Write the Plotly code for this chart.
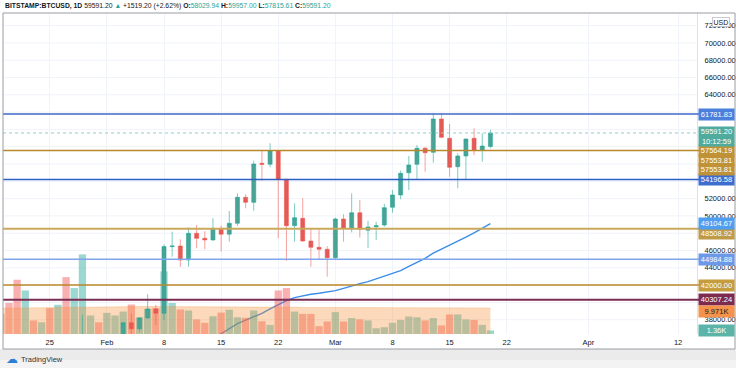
import pandas as pd
import plotly.graph_objects as go

# ---------------- data ----------------
dates = pd.date_range('2021-01-19', '2021-03-20', freq='D')

opens = [36000, 35500, 35400, 30850, 33000, 32100, 32300, 32250, 32500, 30400, 33400, 34300, 34350,
         33100, 33500, 35500, 37650, 36950, 38200, 39250, 38750, 46450, 46520, 44900, 47990, 47410, 47220,
         48560, 47890, 49150, 52150, 51570, 56080, 55970, 57540, 54230, 48870, 49720, 47100, 46370, 46140,
         45170, 49640, 48500, 50370, 48350, 48740, 48950, 51000, 52420, 54990, 55970, 57820, 57350, 61200,
         58970, 55690, 56930, 58970, 57620, 58029.94]
highs = [36300, 36200, 35600, 33800, 33500, 32900, 34900, 32900, 32600, 33800, 38600, 34900, 34400,
         34700, 35900, 37700, 38700, 38300, 40950, 39700, 46700, 48180, 47290, 48680, 48950, 48250, 49720,
         48900, 50570, 52610, 52500, 56380, 57540, 58390, 57600, 54300, 51450, 52040, 48500, 48400, 46500,
         49800, 50200, 52610, 51840, 49450, 49310, 51380, 53000, 55230, 56930, 58200, 57990, 61860, 61860,
         60630, 57240, 58950, 60130, 59550, 59957.00]
lows = [34800, 33400, 30100, 28850, 31400, 30900, 32100, 30850, 29200, 29900, 31900, 32900, 32300,
        32300, 33450, 35300, 36200, 36600, 38150, 37400, 37950, 45280, 44130, 44130, 46260, 46140, 47150,
        45870, 47020, 48830, 50880, 50600, 54070, 55620, 47410, 44790, 47020, 47000, 44130, 44900, 42970,
        45000, 47020, 48100, 47500, 46260, 47215, 48750, 50370, 51920, 52990, 54270, 55110, 56150, 59000,
        54530, 53190, 54150, 57040, 56270, 57815.61]
closes = [35500, 35400, 30850, 33000, 32100, 32300, 32250, 32500, 30400, 33400, 34300, 34350, 33100,
          33500, 35500, 37650, 36950, 38200, 39250, 38750, 46450, 46520, 44900, 47990, 47410, 47220, 48560,
          47890, 49150, 52150, 51570, 56000, 55970, 57540, 54230, 48870, 49790, 47100, 46370, 46140, 45170,
          49640, 48570, 50370, 48450, 48720, 48860, 50950, 52420, 54920, 55880, 57820, 57310, 61200, 59090,
          55620, 56930, 58890, 57620, 58080, 59591.20]
volume_k = [7.7, 11.9, 20.8, 16.7, 5.2, 4.5, 9.9, 11.2, 21.8, 17.6, 30.5, 7.1, 4.5,
            8.1, 7.1, 8.6, 11.3, 6.4, 9.6, 9.9, 24.0, 11.9, 9.4, 9.0, 5.6, 4.3, 6.8,
            8.2, 9.3, 6.4, 6.2, 9.0, 4.9, 3.5, 16.7, 17.6, 8.6, 7.7, 7.7, 3.0, 4.8,
            8.4, 4.8, 6.1, 5.6, 5.2, 2.2, 2.6, 4.3, 5.4, 6.7, 6.4, 5.2, 6.1, 3.3,
            7.5, 7.5, 5.6, 5.4, 3.5, 1.36]
volume_ma_k = [9.9, 9.95, 10.0, 10.05, 10.1, 10.15, 10.2, 10.25, 10.3, 10.35, 10.4, 10.4, 10.45,
               10.45, 10.5, 10.5, 10.5, 10.5, 10.5, 10.5, 10.5, 10.45, 10.45, 10.4, 10.4, 10.4, 10.35,
               10.35, 10.35, 10.3, 10.3, 10.3, 10.3, 10.3, 10.25, 10.25, 10.25, 10.2, 10.2, 10.2, 10.2,
               10.2, 10.2, 10.15, 10.15, 10.15, 10.1, 10.1, 10.1, 10.1, 10.05, 10.05, 10.05, 10.0, 10.0,
               10.0, 10.0, 9.99, 9.98, 9.975, 9.971]

ma_dates = pd.date_range('2021-02-14', '2021-03-20', freq='D')
ma50 = [35800, 36400, 37000, 37540, 37950, 38300, 38740, 39240, 39700, 40200, 40550, 40780, 40940,
        41060, 41210, 41360, 41630, 41930, 42170, 42400, 42710, 42980, 43290, 43670, 44170, 44640,
        45100, 45700, 46150, 46560, 47060, 47550, 48050, 48540, 49105]

# horizontal price levels: (value, line colour, width, label colour)
levels = [
    (61781.83, '#4169c9', 1.5, '#4a7fdc'),
    (57564.19, '#b8892a', 1.5, '#bf9238'),
    (54196.58, '#2f5fc4', 1.5, '#3d6dcf'),
    (48508.92, '#c9a85c', 2.0, '#bf9a48'),
    (44984.88, '#7fa6ec', 1.5, '#6c98e8'),
    (42000.00, '#b8892a', 1.5, '#c59c3e'),
    (40307.24, '#7a2d52', 2.0, '#7d2a4f'),
]
extra_labels = [(57553.81, '#bf9238', -9.5), (57553.81, '#bf9238', -18.5)]

x_tickvals = ['2021-01-25', '2021-02-01', '2021-02-08', '2021-02-15', '2021-02-22', '2021-03-01',
              '2021-03-08', '2021-03-15', '2021-03-22', '2021-04-01', '2021-04-12']
x_ticktext = ['25', 'Feb', '8', '15', '22', 'Mar', '8', '15', '22', 'Apr', '12']
# price ticks whose labels are not covered by the level labels
y_tickvals = [38000, 44000, 46000, 50000, 52000, 64000, 66000, 68000, 70000, 72000]
grid_vals = list(range(36000, 74000, 2000))

last_close = 59591.20
ma_last = 49104.67
vol_ma_last = 9971
vol_last = 1360

# ---------------- layout geometry ----------------
W, H = 736, 368
def px(x):
    return x / W
def py(y):
    return 1 - y / H

plot_l, plot_r, plot_t, plot_b = 3, 697, 13, 334
price_range = [36349, 73458]
vol_range = [0, 123000]

feb8 = pd.Timestamp('2021-02-08')
x_start = feb8 - pd.Timedelta(days=(164 - plot_l) / 8.16)
x_end = feb8 + pd.Timedelta(days=(plot_r - 164) / 8.16)

vol_colors = ['rgba(38,166,154,0.45)' if c >= o else 'rgba(239,83,80,0.45)' for o, c in zip(opens, closes)]

fig = go.Figure()
fig.add_trace(go.Scatter(x=ma_dates, y=ma50, mode='lines', line=dict(color='#3b8ee8', width=1.4),
                         yaxis='y', hoverinfo='skip', showlegend=False))
fig.add_trace(go.Bar(x=dates, y=[v * 1000 for v in volume_k], marker=dict(color=vol_colors, line=dict(width=0)),
                     width=0.9 * 86400000, yaxis='y2', hoverinfo='skip', showlegend=False))
fig.add_trace(go.Scatter(x=dates, y=[v * 1000 for v in volume_ma_k], mode='lines', fill='tozeroy',
                         line=dict(width=0.8, color='rgba(245,140,50,0.35)'), fillcolor='rgba(245,140,50,0.33)',
                         yaxis='y2', hoverinfo='skip', showlegend=False))
fig.add_trace(go.Candlestick(x=dates, open=opens, high=highs, low=lows, close=closes, yaxis='y3',
                             increasing=dict(line=dict(color='rgba(38,166,154,0.6)', width=1), fillcolor='#4aa394'),
                             decreasing=dict(line=dict(color='rgba(239,83,80,0.55)', width=1), fillcolor='#e35b56'),
                             whiskerwidth=0, showlegend=False, hoverinfo='skip'))

shapes = []
annotations = []
# faint horizontal grid at every 2000
for g in grid_vals:
    shapes.append(dict(type='line', xref='x domain', x0=0, x1=1, yref='y3', y0=g, y1=g,
                       line=dict(color='#f0f3fa', width=1), layer='below'))
# current price dotted line
shapes.append(dict(type='line', xref='x domain', x0=0, x1=1.01, yref='y3', y0=last_close, y1=last_close,
                   line=dict(color='#8fd0c6', width=1, dash='dot'), layer='above'))
for val, lc, lw, bc in levels:
    shapes.append(dict(type='line', xref='x domain', x0=0, x1=1.01, yref='y3', y0=val, y1=val,
                       line=dict(color=lc, width=lw), layer='above'))

def label(text, y, yref, bg, shift=0, fcolor='white', height=10):
    annotations.append(dict(text=text, xref='paper', x=px(698), xanchor='left', yref=yref, y=y,
                            yanchor='middle', yshift=shift, showarrow=False, bgcolor=bg, width=34,
                            height=height, borderpad=0.5, align='center',
                            font=dict(family='Liberation Sans, Arial', size=7.5, color=fcolor)))

for val, lc, lw, bc in levels:
    shift = 0
    if abs(val - 48508.92) < 1:
        shift = -4.5
    label(f'{val:.2f}', val, 'y3', bc, shift)
for val, bc, shift in extra_labels:
    label(f'{val:.2f}', val, 'y3', bc, shift)
label(f'{last_close:.2f}<br>10:12:59', last_close, 'y3', '#4fab9d', -3.5, height=18)
label(f'{ma_last:.2f}', ma_last, 'y3', '#4f9ef0', 0)
label(f'{vol_ma_last/1000:.3f}K', vol_ma_last, 'y2', '#f5934c', -4, fcolor='#1a1a1a')
label(f'{vol_last/1000:.2f}K', vol_last, 'y2', '#5cb4a8', 0)

# USD box
annotations.append(dict(text='USD', xref='paper', x=px(721), xanchor='center', yref='paper', y=py(22),
                        yanchor='middle', showarrow=False, bgcolor='white', bordercolor='#c8cad0',
                        borderwidth=1, borderpad=0.5, font=dict(family='Liberation Sans, Arial', size=7, color='#131722')))

# header
hdr = ("<b>BITSTAMP:BTCUSD, 1D</b> 59591.20 <span style='color:#26a69a'>▲</span> +1519.20 (+2.62%) "
       "<b>O:</b><span style='color:#26a69a'>58029.94</span> <b>H:</b><span style='color:#26a69a'>59957.00</span> "
       "<b>L:</b><span style='color:#26a69a'>57815.61</span> <b>C:</b><span style='color:#26a69a'>59591.20</span>")
annotations.append(dict(text=hdr, xref='paper', x=px(3), xanchor='left', yref='paper', y=py(6), yanchor='middle',
                        showarrow=False, font=dict(family='Liberation Sans, Arial', size=6.8, color='#131722')))

# frame and bottom band
shapes.append(dict(type='rect', xref='paper', yref='paper', x0=0, x1=1, y0=0, y1=py(349),
                   fillcolor='#f3f3f3', line=dict(width=0), layer='below'))
shapes.append(dict(type='rect', xref='paper', yref='paper', x0=0, x1=1, y0=py(360), y1=py(349),
                   fillcolor='#ebebeb', line=dict(width=0), layer='below'))
shapes.append(dict(type='rect', xref='paper', yref='paper', x0=px(3), x1=px(735), y0=py(349), y1=py(13),
                   fillcolor='rgba(0,0,0,0)', line=dict(color='#9a9ca3', width=1), layer='above'))

# TradingView logo
annotations.append(dict(text='☁', xref='paper', x=px(4), xanchor='left', yref='paper', y=py(359), yanchor='middle',
                        showarrow=False, font=dict(family='DejaVu Sans', size=12, color='#2d7fd6')))
annotations.append(dict(text='TradingView', xref='paper', x=px(19), xanchor='left', yref='paper', y=py(359),
                        yanchor='middle', showarrow=False,
                        font=dict(family='Liberation Sans, Arial', size=7.5, color='#333333')))

fig.update_layout(
    width=W, height=H, margin=dict(l=0, r=0, t=0, b=0),
    paper_bgcolor='white', plot_bgcolor='white', showlegend=False,
    font=dict(family='Liberation Sans, Arial', size=8, color='#131722'),
    boxgap=0.3,
    xaxis=dict(type='date', domain=[px(plot_l), px(plot_r)], range=[x_start, x_end],
               tickvals=x_tickvals, ticktext=x_ticktext, showgrid=True, gridcolor='#f0f3fa', gridwidth=1,
               ticks='', showline=False, zeroline=False, rangeslider=dict(visible=False),
               tickfont=dict(size=7.5, color='#131722'), ticklabelstandoff=2),
    yaxis=dict(domain=[py(plot_b), py(plot_t)], range=price_range, visible=False, showgrid=False),
    yaxis2=dict(overlaying='y', range=vol_range, visible=False, showgrid=False),
    yaxis3=dict(overlaying='y', side='right', anchor='x', range=price_range, tickvals=y_tickvals,
                tickformat='.2f', showgrid=False, ticks='', showline=True,
                linecolor='#dfe1e6', zeroline=False, tickfont=dict(size=7.5, color='#131722'),
                ticklabelstandoff=5),
    shapes=shapes, annotations=annotations,
)

fig.write_html('out.html', config={'displayModeBar': False, 'staticPlot': True},
               post_script="document.body.style.margin='0';document.body.style.overflow='hidden';")
